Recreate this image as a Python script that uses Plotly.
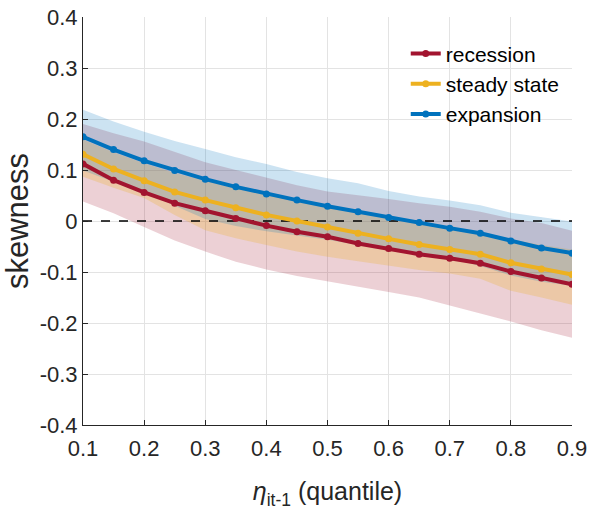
import plotly.graph_objects as go

quantiles = [0.1, 0.15, 0.2, 0.25, 0.3, 0.35, 0.4, 0.45, 0.5, 0.55, 0.6, 0.65, 0.7, 0.75, 0.8, 0.85, 0.9]

recession = [0.112, 0.080, 0.056, 0.035, 0.020, 0.005, -0.009, -0.021, -0.031, -0.044, -0.054, -0.065, -0.073, -0.083, -0.099, -0.112, -0.124]
recession_hi = [0.190, 0.172, 0.156, 0.135, 0.115, 0.100, 0.085, 0.070, 0.058, 0.051, 0.043, 0.035, 0.028, 0.018, 0.005, -0.004, -0.019]
recession_lo = [0.038, 0.015, -0.012, -0.038, -0.060, -0.080, -0.095, -0.108, -0.119, -0.129, -0.139, -0.150, -0.165, -0.181, -0.197, -0.214, -0.229]

steady = [0.131, 0.102, 0.079, 0.057, 0.041, 0.026, 0.012, 0.000, -0.012, -0.024, -0.035, -0.046, -0.056, -0.065, -0.082, -0.094, -0.105]
steady_hi = [0.160, 0.135, 0.113, 0.094, 0.079, 0.065, 0.052, 0.040, 0.029, 0.018, 0.008, -0.002, -0.012, -0.022, -0.036, -0.047, -0.056]
steady_lo = [0.087, 0.065, 0.045, 0.012, -0.018, -0.034, -0.047, -0.060, -0.070, -0.079, -0.088, -0.096, -0.103, -0.113, -0.137, -0.150, -0.164]

expansion = [0.165, 0.140, 0.118, 0.099, 0.082, 0.067, 0.053, 0.041, 0.029, 0.018, 0.007, -0.003, -0.014, -0.024, -0.039, -0.053, -0.063]
expansion_hi = [0.218, 0.195, 0.175, 0.157, 0.141, 0.125, 0.112, 0.096, 0.084, 0.074, 0.059, 0.048, 0.040, 0.031, 0.016, 0.007, -0.001]
expansion_lo = [0.099, 0.077, 0.058, 0.030, 0.004, -0.010, -0.020, -0.029, -0.037, -0.047, -0.055, -0.063, -0.073, -0.088, -0.107, -0.119, -0.127]

x_ticks = [0.1, 0.2, 0.3, 0.4, 0.5, 0.6, 0.7, 0.8, 0.9]
y_ticks = [-0.4, -0.3, -0.2, -0.1, 0, 0.1, 0.2, 0.3, 0.4]
y_tick_labels = ["-0.4", "-0.3", "-0.2", "-0.1", "0", "0.1", "0.2", "0.3", "0.4"]

series = [
    ("recession", recession, recession_hi, recession_lo, "#A2142F", "rgba(162,20,47,0.2)"),
    ("steady state", steady, steady_hi, steady_lo, "#EDB120", "rgba(237,177,32,0.25)"),
    ("expansion", expansion, expansion_hi, expansion_lo, "#0072BD", "rgba(0,114,189,0.2)"),
]

fig = go.Figure()

for name, mid, hi, lo, col, fcol in series:
    fig.add_trace(go.Scatter(
        x=quantiles + quantiles[::-1], y=hi + lo[::-1],
        fill="toself", fillcolor=fcol, line=dict(width=0),
        mode="lines", showlegend=False, hoverinfo="skip"))

fig.add_trace(go.Scatter(x=[x_ticks[0], x_ticks[-1]], y=[0, 0], mode="lines",
                         line=dict(color="black", width=1.5, dash="dash"),
                         showlegend=False, hoverinfo="skip"))

for name, mid, hi, lo, col, fcol in series:
    fig.add_trace(go.Scatter(
        x=quantiles, y=mid, name=name, mode="lines+markers",
        line=dict(color=col, width=4), marker=dict(color=col, size=7)))

tick_font = dict(family="Liberation Sans, Arial, sans-serif", size=22, color="#262626")

fig.update_layout(
    width=590, height=515,
    margin=dict(l=83, r=18, t=17, b=90, autoexpand=False),
    paper_bgcolor="white", plot_bgcolor="white",
    legend=dict(x=0.66, y=0.96, xanchor="left", yanchor="top",
                bgcolor="rgba(0,0,0,0)", itemwidth=30,
                font=dict(family="Liberation Sans, Arial, sans-serif", size=21, color="black"),
                tracegroupgap=0),
    xaxis=dict(range=[0.1, 0.9], tickvals=x_ticks, ticktext=[str(v) for v in x_ticks],
               showgrid=True, gridcolor="#e3e3e3", gridwidth=1,
               showline=True, linecolor="#262626", linewidth=1, mirror=False,
               ticks="inside", ticklen=5, tickcolor="#262626",
               tickfont=tick_font, zeroline=False, automargin=False,
               ticklabelstandoff=4, ticklabeloverflow="allow",
               title=dict(text="<i>η</i><sub>it-1</sub> (quantile)",
                          font=dict(family="Liberation Sans, Arial, sans-serif", size=25, color="#262626"),
                          standoff=22)),
    yaxis=dict(range=[-0.4, 0.4], tickvals=y_ticks, ticktext=y_tick_labels,
               showgrid=True, gridcolor="#e3e3e3", gridwidth=1,
               showline=True, linecolor="#262626", linewidth=1, mirror=False,
               ticks="inside", ticklen=5, tickcolor="#262626",
               tickfont=tick_font, zeroline=False, automargin=False,
               ticklabeloverflow="allow",
               title=dict(text="skewness",
                          font=dict(family="Liberation Sans, Arial, sans-serif", size=31, color="#262626"),
                          standoff=3)),
)

# remove the default 8px page margin so the 590x515 figure fills the window
fig.write_html("out.html", config={"displayModeBar": False},
               post_script="document.body.style.margin='0';document.body.style.overflow='hidden';")
